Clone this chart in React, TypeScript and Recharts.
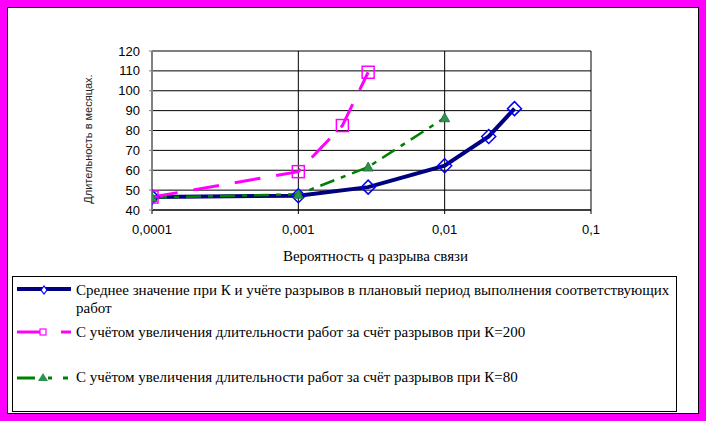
import { LineChart, Line, XAxis, YAxis, CartesianGrid } from "recharts";

// probability of a link break (log axis)
const xTicks = [0.0001, 0.001, 0.01, 0.1];
const yTicks = [40, 50, 60, 70, 80, 90, 100, 110, 120];
const minorTicks = [
  40, 42, 44, 46, 48, 50, 52, 54, 56, 58, 60, 62, 64, 66, 68, 70, 72, 74, 76, 78, 80,
  82, 84, 86, 88, 90, 92, 94, 96, 98, 100, 102, 104, 106, 108, 110, 112, 114, 116, 118, 120,
];

const avgQ = [0.0001, 0.001, 0.003, 0.01, 0.02, 0.03];
const avgVal = [46.5, 47.2, 51.5, 62.3, 77, 91];
const k200Q = [0.0001, 0.001, 0.002, 0.003];
const k200Val = [46.5, 59.3, 82.5, 109.3];
const k80Q = [0.0001, 0.001, 0.003, 0.01];
const k80Val = [46.3, 47.9, 61.6, 86.4];

const seriesNames = [
  "Среднее значение при К и  учёте разрывов в плановый период выполнения соответствующих",
  "С учётом увеличения длительности работ за счёт разрывов при К=200",
  "С учётом увеличения длительности работ за счёт разрывов при К=80",
];

const avgData = avgQ.map((q, i) => ({ q, v: avgVal[i] }));
const k200Data = k200Q.map((q, i) => ({ q, v: k200Val[i] }));
const k80Data = k80Q.map((q, i) => ({ q, v: k80Val[i] }));

const NAVY = "#000080";
const BLUE = "#0000ff";
const MAGENTA = "#ff00ff";
const GREEN = "#008000";
const TRI = "#2e9150";

const sans = "'Liberation Sans', Arial, sans-serif";
const serif = "'Liberation Serif', 'Times New Roman', serif";

function Diamond(props: any) {
  const { cx, cy, index } = props;
  const r = 7;
  return (
    <path
      key={`dm${index}`}
      d={`M${cx} ${cy - r}L${cx + r} ${cy}L${cx} ${cy + r}L${cx - r} ${cy}Z`}
      fill="none"
      stroke={BLUE}
      strokeWidth={1.5}
    />
  );
}

function Square(props: any) {
  const { cx, cy, index } = props;
  const s = 6;
  return (
    <rect
      key={`sq${index}`}
      x={cx - s}
      y={cy - s}
      width={s * 2}
      height={s * 2}
      fill="none"
      stroke={MAGENTA}
      strokeWidth={1.5}
    />
  );
}

function Triangle(props: any) {
  const { cx, cy, index } = props;
  return (
    <path
      key={`tr${index}`}
      d={`M${cx} ${cy - 5}L${cx + 5} ${cy + 4}L${cx - 5} ${cy + 4}Z`}
      fill={TRI}
      stroke="#1d6b36"
      strokeWidth={0.8}
    />
  );
}

const fmt = (v: number) => String(v).replace(".", ",");

function YTitle() {
  return (
    <text
      x={92}
      y={139}
      transform="rotate(-90 92 139)"
      textAnchor="middle"
      fontFamily={sans}
      fontSize={11}
      fill="#222"
    >
      Длительность в месяцах.
    </text>
  );
}

function LegendIcon({ kind }: { kind: number }) {
  if (kind === 0) {
    return (
      <svg width={56} height={14} style={{ display: "block" }}>
        <line x1={0} y1={7} x2={54} y2={7} stroke={NAVY} strokeWidth={4} />
        <path d="M27 4L30 8L27 12L24 8Z" fill="#fff" stroke={BLUE} strokeWidth={1.2} />
      </svg>
    );
  }
  if (kind === 1) {
    return (
      <svg width={56} height={14} style={{ display: "block" }}>
        <line x1={0} y1={7} x2={26} y2={7} stroke={MAGENTA} strokeWidth={3} />
        <line x1={44} y1={7} x2={54} y2={7} stroke={MAGENTA} strokeWidth={3} />
        <rect x={23} y={4} width={6} height={6} fill="#fff" stroke={MAGENTA} strokeWidth={1.2} />
      </svg>
    );
  }
  return (
    <svg width={56} height={14} style={{ display: "block" }}>
      <line x1={0} y1={7} x2={18} y2={7} stroke={GREEN} strokeWidth={3} />
      <line x1={46} y1={7} x2={51} y2={7} stroke={GREEN} strokeWidth={3} />
      <path d="M26 2L31 10L21 10Z" fill={TRI} />
      <line x1={31} y1={7} x2={35} y2={7} stroke={GREEN} strokeWidth={3} />
    </svg>
  );
}

const legendText: React.CSSProperties = {
  position: "absolute",
  left: 63,
  fontFamily: serif,
  fontSize: 15,
  lineHeight: "18px",
  whiteSpace: "nowrap",
  color: "#000",
};

export default function App() {
  return (
    <div
      style={{
        position: "absolute",
        left: 0,
        top: 0,
        width: 706,
        height: 421,
        background: MAGENTA,
        overflow: "hidden",
      }}
    >
      <div
        style={{
          position: "absolute",
          left: 7,
          top: 7,
          width: 692,
          height: 407,
          background: "#fff",
          border: "1px solid #000",
          boxSizing: "border-box",
        }}
      />
      <div style={{ position: "absolute", left: 0, top: 0 }}>
        <LineChart
          width={706}
          height={270}
          margin={{ top: 51, right: 115, bottom: 30, left: 92 }}
        >
          <CartesianGrid stroke="#000" strokeWidth={1} />
          <XAxis
            type="number"
            dataKey="q"
            scale="log"
            domain={[0.0001, 0.1]}
            ticks={xTicks}
            interval={0}
            allowDataOverflow
            tickFormatter={fmt}
            height={30}
            tickSize={4}
            tickMargin={11}
            axisLine={{ stroke: "#000" }}
            tickLine={{ stroke: "#000" }}
            tick={{ fill: "#000", fontSize: 13, fontFamily: sans }}
            label={{
              value: "Вероятность q разрыва связи",
              position: "bottom",
              offset: 10,
              dx: 4,
              fill: "#000",
              fontSize: 15,
              fontFamily: serif,
            }}
          />
          <YAxis
            type="number"
            domain={[40, 120]}
            ticks={yTicks}
            interval={0}
            width={60}
            tickSize={3}
            tickMargin={9}
            axisLine={{ stroke: "#808080", strokeWidth: 2 }}
            tickLine={{ stroke: "#808080" }}
            tick={{ fill: "#000", fontSize: 13, fontFamily: sans }}
            label={{ content: () => <YTitle /> }}
          />
          <YAxis
            yAxisId="minor"
            orientation="right"
            type="number"
            domain={[40, 120]}
            ticks={minorTicks}
            interval={0}
            width={0}
            mirror
            tickFormatter={() => ""}
            tick={{ fontSize: 1 }}
            tickSize={3}
            axisLine={{ stroke: "#000" }}
            tickLine={{ stroke: "#000" }}
          />
          <Line
            data={avgData}
            dataKey="v"
            type="linear"
            stroke={NAVY}
            strokeWidth={4}
            dot={Diamond}
            activeDot={false}
            isAnimationActive={false}
          />
          <Line
            data={k80Data}
            dataKey="v"
            type="linear"
            stroke={GREEN}
            strokeWidth={2.5}
            strokeDasharray="15 7 5 7"
            dot={Triangle}
            activeDot={false}
            isAnimationActive={false}
          />
          <Line
            data={k200Data}
            dataKey="v"
            type="linear"
            stroke={MAGENTA}
            strokeWidth={3}
            strokeDasharray="26 16"
            dot={Square}
            activeDot={false}
            isAnimationActive={false}
          />
        </LineChart>
      </div>
      <div
        style={{
          position: "absolute",
          left: 12,
          top: 276,
          width: 665,
          height: 136,
          border: "1px solid #000",
          boxSizing: "border-box",
        }}
      >
        <div style={{ position: "absolute", left: 4, top: 5 }}>
          <LegendIcon kind={0} />
        </div>
        <div style={{ ...legendText, top: 4 }}>
          {seriesNames[0]}
          <br />
          работ
        </div>
        <div style={{ position: "absolute", left: 4, top: 48 }}>
          <LegendIcon kind={1} />
        </div>
        <div style={{ ...legendText, top: 46 }}>{seriesNames[1]}</div>
        <div style={{ position: "absolute", left: 4, top: 94 }}>
          <LegendIcon kind={2} />
        </div>
        <div style={{ ...legendText, top: 91 }}>{seriesNames[2]}</div>
      </div>
    </div>
  );
}
